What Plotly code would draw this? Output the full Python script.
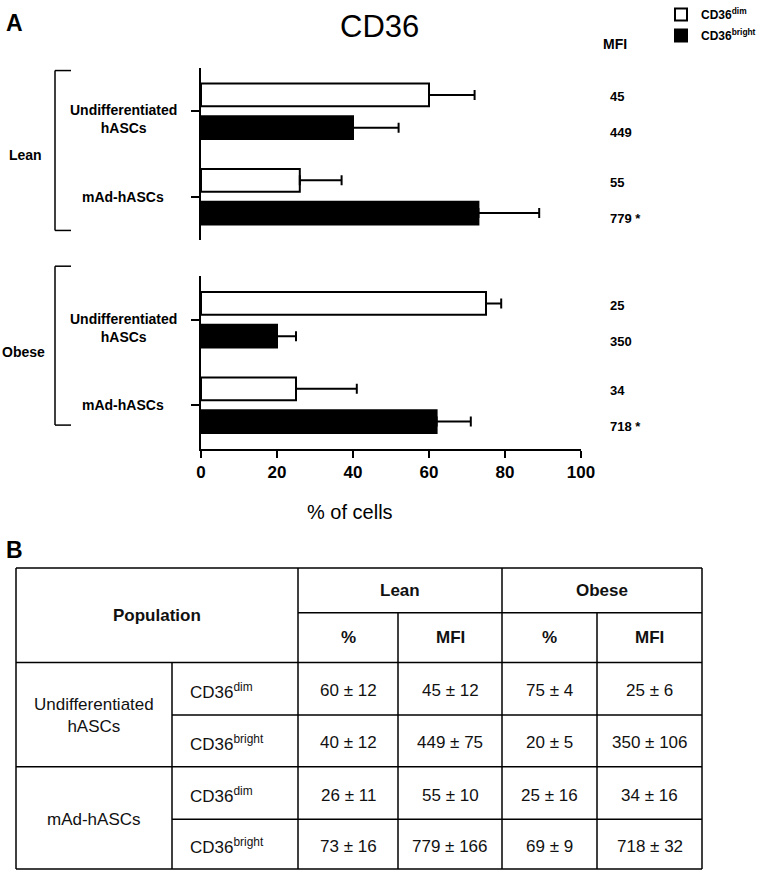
import plotly.graph_objects as go

# ---------------- data ----------------
categories = ["Undifferentiated hASCs", "mAd-hASCs"]
cat_labels = ["Undifferentiated<br>hASCs", "mAd-hASCs"]

lean_dim = [60, 26]
lean_dim_err = [12, 11]
lean_bright = [40, 73]
lean_bright_err = [12, 16]

obese_dim = [75, 25]
obese_dim_err = [4, 16]
obese_bright = [20, 62]
obese_bright_err = [5, 9]

lean_dim_mfi = ["45", "55"]
lean_bright_mfi = ["449", "779 *"]
obese_dim_mfi = ["25", "34"]
obese_bright_mfi = ["350", "718 *"]

x_ticks = [0, 20, 40, 60, 80, 100]

# table B
tbl_pop = ["Undifferentiated<br>hASCs", "mAd-hASCs"]
tbl_sub = ["CD36<sup>dim</sup>", "CD36<sup>bright</sup>", "CD36<sup>dim</sup>", "CD36<sup>bright</sup>"]
tbl_lean_pct = ["60 ± 12", "40 ± 12", "26 ± 11", "73 ± 16"]
tbl_lean_mfi = ["45 ± 12", "449 ± 75", "55 ± 10", "779 ± 166"]
tbl_obese_pct = ["75 ± 4", "20 ± 5", "25 ± 16", "69 ± 9"]
tbl_obese_mfi = ["25 ± 6", "350 ± 106", "34 ± 16", "718 ± 32"]

# ---------------- layout helpers ----------------
W, H = 762, 872
L, R = 201, 581
FONT = "Liberation Sans, Arial, sans-serif"


def px(X):
    return (X - L) / (R - L)


def py(Y):
    return 1 - Y / H


fig = go.Figure()

DIM = "<b>CD36<sup>dim</sup></b>"
BRIGHT = "<b>CD36<sup>bright</sup></b>"


def add_pair(dim, dim_err, bright, bright_err, xa, ya, show):
    fig.add_trace(go.Bar(
        x=dim, y=categories, orientation="h", name=DIM, legendgroup="dim",
        showlegend=show, xaxis=xa, yaxis=ya,
        marker=dict(color="white", line=dict(color="black", width=2)),
        error_x=dict(type="data", symmetric=False, array=dim_err,
                     arrayminus=[0] * len(dim_err), color="black",
                     thickness=2, width=5),
    ))
    fig.add_trace(go.Bar(
        x=bright, y=categories, orientation="h", name=BRIGHT, legendgroup="bright",
        showlegend=show, xaxis=xa, yaxis=ya,
        marker=dict(color="black", line=dict(color="black", width=2)),
        error_x=dict(type="data", symmetric=False, array=bright_err,
                     arrayminus=[0] * len(bright_err), color="black",
                     thickness=2, width=5),
    ))


add_pair(lean_dim, lean_dim_err, lean_bright, lean_bright_err, "x", "y", True)
add_pair(obese_dim, obese_dim_err, obese_bright, obese_bright_err, "x2", "y2", False)

yrange = [1.512, -0.512]
yax = dict(type="category", range=yrange, showline=True, linecolor="black",
           linewidth=2, ticks="outside", ticklen=8, tickwidth=2,
           tickcolor="black", showticklabels=False, showgrid=False,
           zeroline=False)

annotations = []

# category labels (both panels) and MFI labels
for ya, dim_mfi, bright_mfi in (("y", lean_dim_mfi, lean_bright_mfi),
                                ("y2", obese_dim_mfi, obese_bright_mfi)):
    for i, lab in enumerate(cat_labels):
        annotations.append(dict(
            x=px(123), xref="paper", y=i, yref=ya, text="<b>" + lab + "</b>",
            showarrow=False, xanchor="center", yanchor="middle", align="center",
            yshift=-8 if "<br>" in lab else 0,
            font=dict(family=FONT, size=14, color="black")))
        annotations.append(dict(
            x=px(608), xref="paper", y=i - 0.17, yref=ya,
            text="<b>" + dim_mfi[i] + "</b>", showarrow=False,
            xanchor="left", yanchor="middle",
            font=dict(family=FONT, size=13, color="black")))
        annotations.append(dict(
            x=px(608), xref="paper", y=i + 0.25, yref=ya,
            text="<b>" + bright_mfi[i] + "</b>", showarrow=False,
            xanchor="left", yanchor="middle",
            font=dict(family=FONT, size=13, color="black")))


def lab(x, y, t, size, bold=True):
    annotations.append(dict(
        x=px(x), y=py(y), xref="paper", yref="paper",
        text=("<b>%s</b>" % t) if bold else t, showarrow=False,
        xanchor="center", yanchor="middle",
        font=dict(family=FONT, size=size, color="black")))


lab(25, 150, "Lean", 14)
lab(23, 348, "Obese", 14)
lab(615, 38, "MFI", 14)
lab(379, 21, "CD36", 31, bold=False)
lab(14, 17, "A", 23)
lab(14, 548, "B", 23)
lab(350, 510, "% of cells", 20, bold=False)

shapes = []


def seg(x0, y0, x1, y1, width=1.5):
    shapes.append(dict(type="line", xref="paper", yref="paper",
                       x0=px(x0), y0=py(y0), x1=px(x1), y1=py(y1),
                       line=dict(color="black", width=width)))


# brackets
for top, bot in ((65, 226), (262, 422)):
    seg(55, top, 55, bot)
    seg(55, top, 71, top)
    seg(55, bot, 71, bot)

# ---------------- table B ----------------
TL, TR = 16, 702
c_sub, c_pop, c_lm, c_lo, c_om = 172, 298, 398, 502, 597
r_top, r_mid, r_hdr = 566, 611, 661
r_rows = [661, 714, 766, 819, 869]

seg(TL, r_top, TR, r_top)
seg(c_pop, r_mid, TR, r_mid)
seg(TL, r_hdr, TR, r_hdr)
seg(c_sub, r_rows[1], TR, r_rows[1])
seg(TL, r_rows[2], TR, r_rows[2])
seg(c_sub, r_rows[3], TR, r_rows[3])
seg(TL, r_rows[4], TR, r_rows[4])
seg(TL, r_top, TL, r_rows[4])
seg(TR, r_top, TR, r_rows[4])
seg(c_pop, r_top, c_pop, r_rows[4])
seg(c_lo, r_top, c_lo, r_rows[4])
seg(c_lm, r_mid, c_lm, r_rows[4])
seg(c_om, r_mid, c_om, r_rows[4])
seg(c_sub, r_hdr, c_sub, r_rows[4])

TF = dict(family=FONT, size=17, color="#111111")


def txt(x, y, t, anchor="center"):
    annotations.append(dict(x=px(x), y=py(y), xref="paper", yref="paper",
                            text=t, showarrow=False, xanchor=anchor,
                            yanchor="middle", align="center", font=TF))


txt((TL + c_pop) / 2, 614, "<b>Population</b>")
txt((c_pop + c_lo) / 2, 589, "<b>Lean</b>")
txt((c_lo + TR) / 2, 589, "<b>Obese</b>")
col_centers = [(c_pop + c_lm) / 2, (c_lm + c_lo) / 2, (c_lo + c_om) / 2, (c_om + TR) / 2]
for cx, t in zip(col_centers, ["<b>%</b>", "<b>MFI</b>", "<b>%</b>", "<b>MFI</b>"]):
    txt(cx, 636, t)

txt((TL + c_sub) / 2, (r_rows[0] + r_rows[2]) / 2 + 1, tbl_pop[0])
txt((TL + c_sub) / 2, (r_rows[2] + r_rows[4]) / 2 + 2, tbl_pop[1])
for k in range(4):
    yc = (r_rows[k] + r_rows[k + 1]) / 2 + 2
    txt(c_sub + 16, yc, tbl_sub[k], anchor="left")
    for cx, col in zip(col_centers, [tbl_lean_pct, tbl_lean_mfi, tbl_obese_pct, tbl_obese_mfi]):
        txt(cx, yc, col[k])

fig.update_layout(
    width=W, height=H,
    margin=dict(l=L, r=W - R, t=0, b=0),
    paper_bgcolor="white", plot_bgcolor="white",
    barmode="group", bargap=0.233, bargroupgap=0.305,
    font=dict(family=FONT, color="black"),
    xaxis=dict(domain=[0, 1], range=[0, 100], visible=False, anchor="y"),
    yaxis=dict(domain=[py(236), py(62)], anchor="x", **yax),
    xaxis2=dict(domain=[0, 1], range=[0, 100], anchor="y2", showline=True,
                linecolor="black", linewidth=2, ticks="outside", ticklen=7,
                tickwidth=2, tickcolor="black", tickvals=x_ticks,
                ticktext=["<b>%d</b>" % v for v in x_ticks],
                tickfont=dict(family=FONT, size=17, color="black"),
                showgrid=False, zeroline=False),
    yaxis2=dict(domain=[py(446), py(272)], anchor="x2", **yax),
    legend=dict(x=px(661), y=py(-6), xanchor="left", yanchor="top",
                font=dict(family=FONT, size=12, color="black"),
                bgcolor="rgba(0,0,0,0)", tracegroupgap=2, itemwidth=30),
    annotations=annotations,
    shapes=shapes,
)

fig.write_html("out.html", config={"displayModeBar": False},
               post_script="document.body.style.margin='0';")
